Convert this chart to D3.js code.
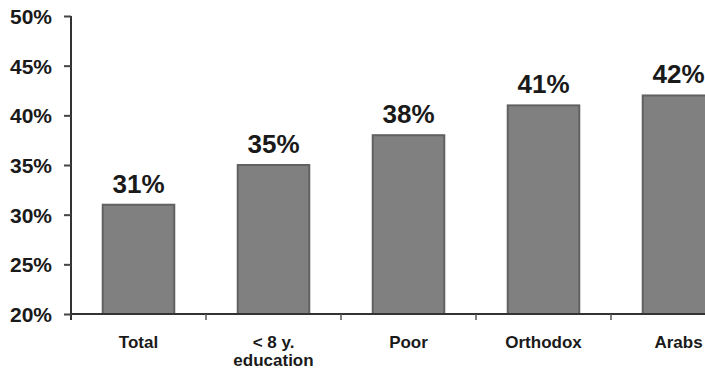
<!DOCTYPE html>
<html>
<head>
<meta charset="utf-8">
<script src="https://cdn.jsdelivr.net/npm/d3@7"></script>
<style>
  body { margin: 0; background: #fff; }
  svg { display: block; font-family: Arial, "Liberation Sans", sans-serif; }
</style>
</head>
<body>
<svg id="chart" width="705" height="375"></svg>
<script>
// chart data
var categories = ["Total", "< 8 y.|education", "Poor", "Orthodox", "Arabs"]
var values = [31, 35, 38, 41, 42]
var yTicks = [20, 25, 30, 35, 40, 45, 50]

var svg = d3.select("#chart")
var plot = { left: 71, top: 16, bottom: 314 }

var x = d3.scaleBand()
    .domain(categories)
    .range([plot.left, plot.left + 135 * categories.length])
    .paddingInner(0.47)
    .paddingOuter(0.235)

var y = d3.scaleLinear()
    .domain([20, 50])
    .range([plot.bottom, plot.top])

// y axis
var yAxis = svg.append("g")
    .attr("transform", "translate(" + plot.left + ",0)")
    .call(d3.axisLeft(y).tickValues(yTicks).tickFormat(d => d + "%").tickSize(7).tickPadding(12))
yAxis.select(".domain").attr("stroke", "#333").attr("stroke-width", 2).attr("d", "M0," + plot.top + "V" + (plot.bottom + 6))
yAxis.selectAll(".tick line").attr("stroke", "#444").attr("stroke-width", 2)
yAxis.selectAll(".tick text")
    .attr("fill", "#1a1a1a")
    .style("font-size", "21px")
    .style("font-weight", "bold")
    .attr("dy", "0.36em")

// bars
svg.selectAll("rect.bar")
    .data(values)
    .enter()
    .append("rect")
    .attr("class", "bar")
    .attr("x", (d, i) => x(categories[i]))
    .attr("y", d => y(d))
    .attr("width", x.bandwidth())
    .attr("height", d => plot.bottom - y(d))
    .attr("fill", "#808080")
    .attr("stroke", "#616161")
    .attr("stroke-width", 2)

// value labels
svg.selectAll("text.val")
    .data(values)
    .enter()
    .append("text")
    .attr("class", "val")
    .attr("x", (d, i) => x(categories[i]) + x.bandwidth() / 2)
    .attr("y", d => y(d) - 12)
    .attr("text-anchor", "middle")
    .attr("fill", "#1a1a1a")
    .style("font-size", "26px")
    .style("font-weight", "bold")
    .text(d => d + "%")

// x axis line + boundary ticks
var step = x.step()
svg.append("line")
    .attr("x1", plot.left).attr("x2", 705)
    .attr("y1", plot.bottom).attr("y2", plot.bottom)
    .attr("stroke", "#333").attr("stroke-width", 2)
svg.selectAll("line.xtick")
    .data(categories.slice(1))
    .enter()
    .append("line")
    .attr("class", "xtick")
    .attr("x1", d => x(d) - (step - x.bandwidth()) / 2)
    .attr("x2", d => x(d) - (step - x.bandwidth()) / 2)
    .attr("y1", plot.bottom).attr("y2", plot.bottom + 6)
    .attr("stroke", "#555").attr("stroke-width", 1.5)

// category labels
var cats = svg.selectAll("text.cat")
    .data(categories)
    .enter()
    .append("text")
    .attr("class", "cat")
    .attr("x", d => x(d) + x.bandwidth() / 2)
    .attr("y", plot.bottom + 34)
    .attr("text-anchor", "middle")
    .attr("fill", "#1a1a1a")
    .style("font-size", "17px")
    .style("font-weight", "bold")
cats.each(function (d) {
    var lines = d.split("|")
    var t = d3.select(this)
    lines.forEach((l, i) => {
        t.append("tspan")
            .attr("x", x(d) + x.bandwidth() / 2)
            .attr("dy", i == 0 ? 0 : 18)
            .text(l)
    })
})
</script>
</body>
</html>
